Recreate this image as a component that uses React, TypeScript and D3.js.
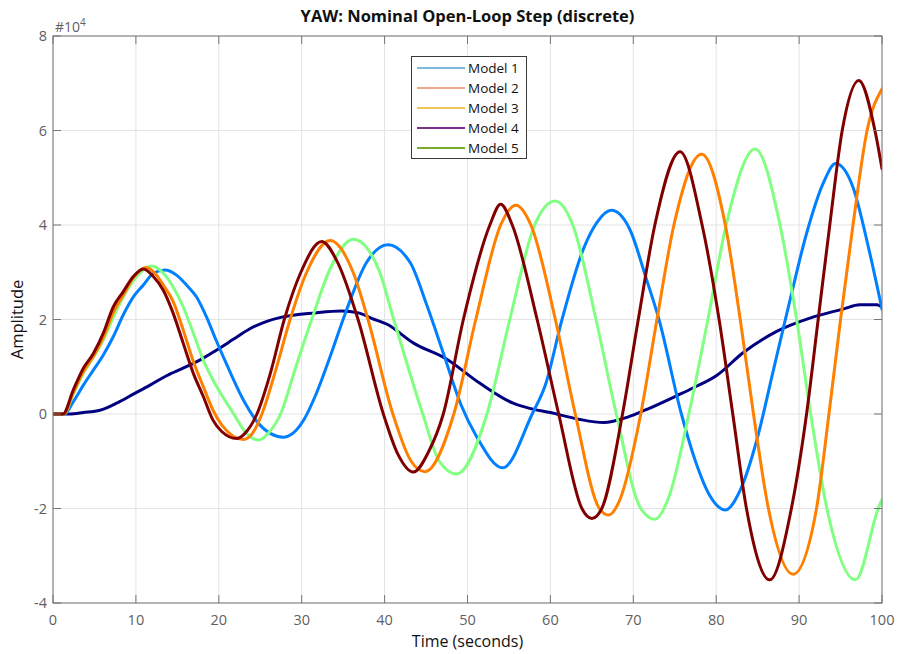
import React from "react";
import * as d3 from "d3";

// Step response samples: [time (s), amplitude (x10^4)]
const model1: [number, number][] = [
  [0, 0], [2, 0], [3.66, 0.03], [5.67, 0.08], [7.68, 0.23], [9.69, 0.42], [11.7, 0.61],
  [13.7, 0.81], [15.7, 0.97], [17.7, 1.14], [19.7, 1.35], [21.75, 1.58], [23.7, 1.8],
  [25.8, 1.96], [27.6, 2.05], [31.6, 2.14], [34.8, 2.18], [36.85, 2.14], [38.5, 2.02],
  [40.3, 1.9], [43.5, 1.5], [47.5, 1.16], [51.5, 0.65], [55.5, 0.23], [57.5, 0.12],
  [60, 0.03], [63.4, -0.11], [66.4, -0.18], [69.4, -0.06], [71.4, 0.08], [75.4, 0.4],
  [77.2, 0.55], [80.1, 0.82], [83.2, 1.29], [87.3, 1.75], [91.3, 2.03], [95.3, 2.22],
  [97.3, 2.31], [99.4, 2.31], [100, 2.26],
];

const model2: [number, number][] = [
  [0, 0], [1.2, 0], [2.45, 0.51], [3.66, 0.97], [4.87, 1.28], [6.07, 1.71], [7.28, 2.27],
  [8.48, 2.59], [9.69, 2.91], [10.9, 3.07], [12.1, 2.91], [13.3, 2.62], [14.5, 2.13],
  [15.7, 1.5], [16.93, 0.86], [18.13, 0.37], [19.3, -0.13], [20.35, -0.37], [22.17, -0.52],
  [23.4, -0.36], [24.6, 0], [26.2, 0.85], [27.9, 2.0], [29.9, 3.0], [32.42, 3.65], [34.3, 3.22],
  [36.8, 2.0], [39.85, 0], [41.6, -0.85], [43.46, -1.23], [45.3, -0.8], [47.08, 0],
  [49.5, 2.0], [52.7, 4.0], [54.0, 4.44], [55.4, 4.0], [58.4, 2.0], [61.0, 0], [63.8, -2.0],
  [65.0, -2.21], [66.2, -2.0], [68.7, 0], [70.6, 2.0], [72.6, 4.0], [75.64, 5.55],
  [78.3, 4.0], [80.35, 2.0], [82.0, 0], [83.65, -2.0], [86.45, -3.51], [89.07, -2.0],
  [90.9, 0], [92.3, 2.0], [93.7, 4.0], [95.2, 6.0], [97.2, 7.06], [99.15, 6.0], [100, 5.19],
];

const model3: [number, number][] = [
  [0, 0], [1.3, 0], [2.45, 0.45], [3.66, 0.9], [4.87, 1.22], [6.07, 1.62], [7.28, 2.15],
  [8.48, 2.52], [9.69, 2.88], [11.2, 3.1], [12.3, 2.98], [13.3, 2.73], [14.5, 2.38],
  [15.7, 1.78], [16.93, 1.11], [18.13, 0.58], [19.3, 0.08], [20.35, -0.23], [22.98, -0.54],
  [24.1, -0.4], [25.2, 0], [26.9, 0.95], [28.6, 2.0], [30.6, 3.0], [33.43, 3.67], [36.2, 3.0],
  [38.0, 2.0], [41.0, 0], [43.2, -1.0], [44.87, -1.22], [48.35, 0], [51.0, 2.0], [54.0, 4.0],
  [55.84, 4.42], [57.65, 4.0], [60.6, 2.0], [63.0, 0], [65.9, -2.0], [67.0, -2.14],
  [68.3, -1.85], [70.9, 0], [72.85, 2.0], [74.9, 4.0], [78.25, 5.5], [81.1, 4.0], [82.9, 2.0],
  [84.5, 0], [86.3, -2.0], [89.27, -3.39], [92.1, -2.0], [93.6, 0], [95.0, 2.0], [96.5, 4.0],
  [98.2, 6.0], [100, 6.88],
];

const model4: [number, number][] = [
  [0, 0], [1.4, 0], [2.45, 0.26], [3.66, 0.61], [4.87, 0.93], [6.07, 1.25], [7.28, 1.64],
  [8.48, 2.1], [9.69, 2.48], [10.9, 2.73], [12.1, 2.98], [13.5, 3.05], [14.9, 2.94],
  [16.1, 2.73], [17.3, 2.48], [18.5, 2.06], [19.7, 1.55], [20.95, 1.05], [22.95, 0.3],
  [24.6, -0.16], [26.2, -0.41], [27.8, -0.49], [29.3, -0.35], [30.3, -0.11], [31.8, 0.45],
  [33.4, 1.2], [35.3, 2.15], [37.8, 3.2], [40.4, 3.58], [43.1, 3.2], [45.1, 2.3], [47.1, 1.28],
  [49.2, 0.2], [51.1, -0.48], [54.25, -1.14], [57.8, 0], [59.4, 0.62], [61.4, 2.0], [64.0, 3.5],
  [65.6, 4.05], [67.35, 4.31], [69.6, 3.9], [71.5, 2.9], [73.1, 2.0], [75.8, 0],
  [77.5, -1.0], [79.2, -1.72], [81.1, -2.03], [82.9, -1.61], [84.9, -0.55], [86.9, 0.93],
  [88.9, 2.41], [90.9, 3.82], [92.9, 4.88], [94.4, 5.3], [96.5, 4.8], [98.4, 3.5], [100, 2.22],
];

const model5: [number, number][] = [
  [0, 0], [1.3, 0], [2.45, 0.42], [3.66, 0.86], [4.87, 1.2], [6.07, 1.57], [7.28, 2.05],
  [8.48, 2.48], [10.1, 2.91], [11.9, 3.13], [13.3, 2.98], [14.5, 2.69], [15.7, 2.27],
  [16.93, 1.71], [18.13, 1.14], [19.3, 0.72], [20.35, 0.4], [21.8, 0], [23.2, -0.38],
  [24.8, -0.55], [26.0, -0.4], [27.45, 0], [29.3, 1.0], [31.2, 2.0], [33.5, 3.1], [36.24, 3.7],
  [39.3, 3.05], [41.1, 2.0], [44.6, 0], [46.6, -1.0], [48.68, -1.27], [52.35, 0], [55.1, 2.0],
  [58.1, 4.0], [60.56, 4.51], [62.7, 4.0], [65.5, 2.0], [67.95, 0], [70.9, -2.0], [72.6, -2.23],
  [74.3, -1.75], [76.7, 0], [79.0, 2.0], [81.2, 4.0], [84.7, 5.61], [87.7, 4.0], [89.7, 2.0],
  [91.4, 0], [93.35, -2.0], [96.8, -3.51], [99.55, -2.0], [100, -1.81],
];

const seriesNames = ["Model 1", "Model 2", "Model 3", "Model 4", "Model 5"];
const seriesData = [model1, model2, model3, model4, model5];
const lineColors = ["#000080", "#800000", "#ff8000", "#0080ff", "#80ff80"];
const legendColors = ["#0072bd", "#d95319", "#edb120", "#7e2f8e", "#77ac30"];
const legendWidths = [1.2, 1.2, 1.5, 2, 2];
const drawOrder = [0, 3, 4, 2, 1];

const xTicks = [0, 10, 20, 30, 40, 50, 60, 70, 80, 90, 100];
const yTicks = [-4, -2, 0, 2, 4, 6, 8];

const W = 900;
const H = 654;
const M = { left: 53, right: 882, top: 36, bottom: 603 };
const FONT = "'Open Sans', Roboto, 'Liberation Sans', Arial, sans-serif";

export default function App() {
  const x = d3.scaleLinear().domain([0, 100]).range([M.left, M.right]);
  const y = d3.scaleLinear().domain([-4, 8]).range([M.bottom, M.top]);
  const line = d3
    .line<[number, number]>()
    .x((d) => x(d[0]))
    .y((d) => y(d[1]))
    .curve(d3.curveMonotoneX);

  const axisColor = "#767676";
  const tickText = "#5f5f5f";
  const tickLen = 8;

  return (
    <svg
      width={W}
      height={H}
      style={{ position: "absolute", left: 0, top: 0, background: "#fff" }}
      fontFamily={FONT}
    >
      <defs>
        <clipPath id="plotClip">
          <rect x={M.left} y={M.top} width={M.right - M.left} height={M.bottom - M.top} />
        </clipPath>
      </defs>
      <rect x={0} y={0} width={W} height={H} fill="#fff" />

      {/* grid */}
      {xTicks.map((t) => (
        <line key={"gx" + t} x1={x(t)} x2={x(t)} y1={M.top} y2={M.bottom} stroke="#e3e3e3" strokeWidth={1} />
      ))}
      {yTicks.map((t) => (
        <line key={"gy" + t} x1={M.left} x2={M.right} y1={y(t)} y2={y(t)} stroke="#e3e3e3" strokeWidth={1} />
      ))}

      {/* response curves */}
      <g clipPath="url(#plotClip)">
        {drawOrder.map((i) => (
          <path
            key={seriesNames[i]}
            d={line(seriesData[i]) || ""}
            fill="none"
            stroke={lineColors[i]}
            strokeWidth={3}
            strokeLinejoin="round"
            strokeLinecap="round"
          />
        ))}
      </g>

      {/* axes box and ticks */}
      <rect
        x={M.left}
        y={M.top}
        width={M.right - M.left}
        height={M.bottom - M.top}
        fill="none"
        stroke={axisColor}
        strokeWidth={1}
      />
      {xTicks.map((t) => (
        <g key={"tx" + t}>
          <line x1={x(t)} x2={x(t)} y1={M.bottom} y2={M.bottom - tickLen} stroke={axisColor} />
          <line x1={x(t)} x2={x(t)} y1={M.top} y2={M.top + tickLen} stroke={axisColor} />
          <text x={x(t)} y={M.bottom + 22} textAnchor="middle" fontSize={14.5} fill={tickText}>
            {t}
          </text>
        </g>
      ))}
      {yTicks.map((t) => (
        <g key={"ty" + t}>
          <line x1={M.left} x2={M.left + tickLen} y1={y(t)} y2={y(t)} stroke={axisColor} />
          <line x1={M.right} x2={M.right - tickLen} y1={y(t)} y2={y(t)} stroke={axisColor} />
          <text x={M.left - 6} y={y(t) + 5} textAnchor="end" fontSize={14.5} fill={tickText}>
            {t}
          </text>
        </g>
      ))}

      {/* exponent label */}
      <text x={55} y={32} fontSize={14} fill={tickText}>
        #10
        <tspan fontSize={10} dy={-6}>4</tspan>
      </text>

      {/* title and axis labels */}
      <text x={(M.left + M.right) / 2} y={22} textAnchor="middle" fontSize={16.5} fontWeight="bold" fill="#111">
        YAW: Nominal Open-Loop Step (discrete)
      </text>
      <text x={(M.left + M.right) / 2} y={647} textAnchor="middle" fontSize={16} fill="#111">
        Time (seconds)
      </text>
      <text
        transform={`translate(23, ${(M.top + M.bottom) / 2}) rotate(-90)`}
        textAnchor="middle"
        fontSize={16.5}
        fill="#111"
      >
        Amplitude
      </text>

      {/* legend */}
      <g>
        <rect x={411.5} y={56.5} width={115} height={102} fill="#fff" stroke="#3a3a3a" strokeWidth={1} />
        {seriesNames.map((name, i) => {
          const ly = 68 + i * 20;
          return (
            <g key={"lg" + name}>
              <line x1={417} x2={465} y1={ly} y2={ly} stroke={legendColors[i]} strokeWidth={legendWidths[i]} />
              <text x={468} y={ly + 5} fontSize={13.5} fill="#111">
                {name}
              </text>
            </g>
          );
        })}
      </g>
    </svg>
  );
}
